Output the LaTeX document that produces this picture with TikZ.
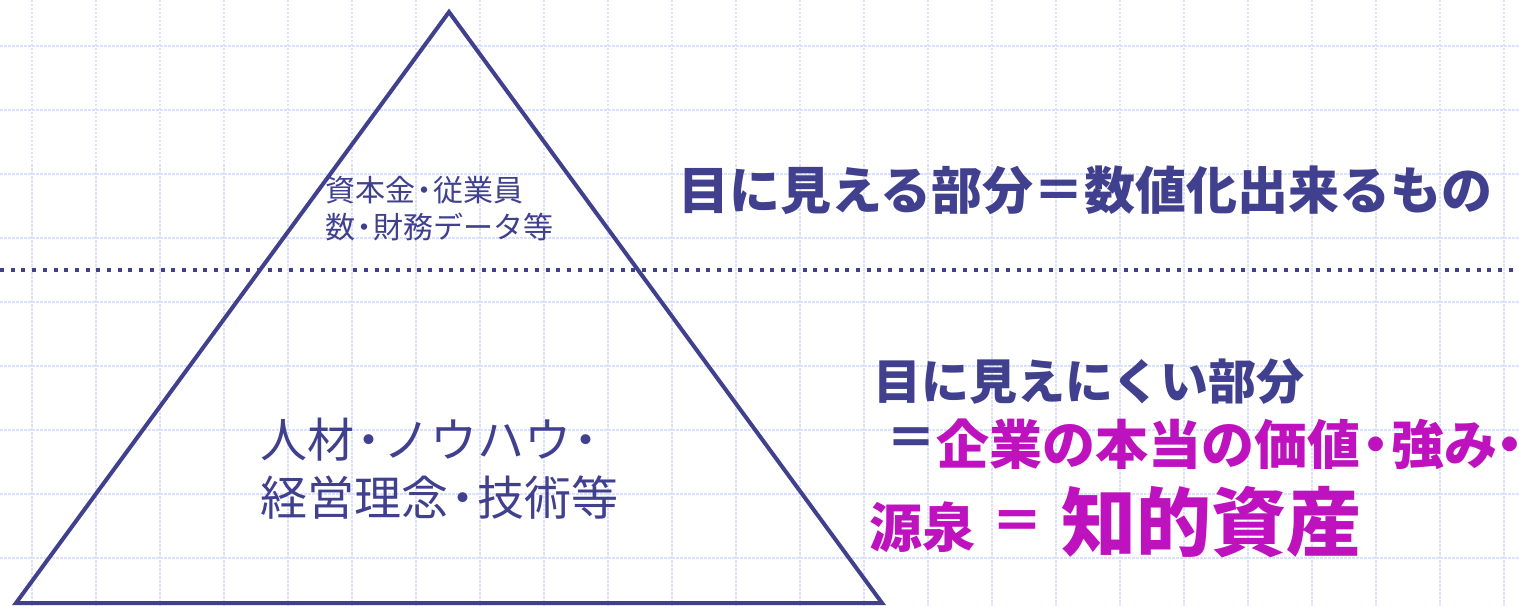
\documentclass[tikz,border=0pt]{standalone}
\usepackage{fontspec}
\newfontfamily\jp{Noto Sans CJK JP}
\newcommand\nd[1][0.62em]{\makebox[#1]{\addfontfeatures{RawFeature=+palt}・}}
\definecolor{navy}{RGB}{64,64,142}
\definecolor{mag}{RGB}{190,18,190}
\definecolor{gridc}{RGB}{218,226,250}
\tikzset{
  gridline/.style={draw=gridc, line width=1.5bp, dash pattern=on 2.5bp off 1.5bp},
  pyr/.style={draw=navy, line width=4bp, line join=miter},
  sep/.style={draw=navy, line width=4bp, dash pattern=on 4bp off 6.7bp},
  txt/.style={inner sep=0pt, outer sep=0pt, anchor=west, text=navy, font=\jp},
}
\begin{document}
\begin{tikzpicture}[x=1bp,y=-1bp]
\useasboundingbox[fill=white] (0,0) rectangle (1519,606);
% grid
\foreach \gx in {32,96,...,1504} { \draw[gridline] (\gx,0) -- (\gx,606); }
\foreach \gy in {46,110,...,558} { \draw[gridline] (0,\gy) -- (1519,\gy); }
% separator
\coordinate (sl) at (0,270);
\coordinate (sr) at (1519,270);
\draw[sep] (sl) -- (sr);
% pyramid
\coordinate (apex) at (449,12);
\coordinate (bl) at (16,603);
\coordinate (br) at (882,603);
\draw[pyr] (apex) -- (br) -- (bl) -- cycle;
% pyramid texts
\node[txt, font=\jp\fontsize{30bp}{34bp}\selectfont] (t1) at (325,190) {資本金\nd 従業員};
\node[txt, font=\jp\fontsize{30bp}{34bp}\selectfont] (t2) at (325,227) {数\nd 財務データ等};
\node[txt, font=\jp\fontsize{47bp}{50bp}\selectfont] (t3) at (260,440) {人材\nd ノウハウ\nd};
\node[txt, font=\jp\fontsize{47bp}{50bp}\selectfont] (t4) at (260,498) {経営理念\nd 技術等};
% right texts
\node[txt, font=\jp\bfseries\fontsize{51bp}{56bp}\selectfont] (h1) at (678,190) {目に見える部分＝数値化出来るもの};
\node[txt, font=\jp\bfseries\fontsize{48bp}{54bp}\selectfont] (h2) at (873,382) {目に見えにくい部分};
\node[inner sep=0pt, text=navy, font=\jp\bfseries\fontsize{50bp}{54bp}\selectfont] (h3a) at (911,442) {＝};
\node[txt, text=mag, font=\jp\bfseries\fontsize{53bp}{58bp}\selectfont] (h3) at (936,444) {企業の本当の価値\nd[0.6em]強み\nd[0.45em]};
\node[txt, text=mag, font=\jp\bfseries\fontsize{53bp}{58bp}\selectfont] (h4) at (869,527) {源泉};
\node[inner sep=0pt, text=mag, font=\jp\bfseries\fontsize{52bp}{58bp}\selectfont] (h5) at (1017,526) {＝};
\node[txt, text=mag, font=\jp\bfseries\fontsize{75bp}{80bp}\selectfont] (h6) at (1061,522) {知的資産};
\end{tikzpicture}
\end{document}
